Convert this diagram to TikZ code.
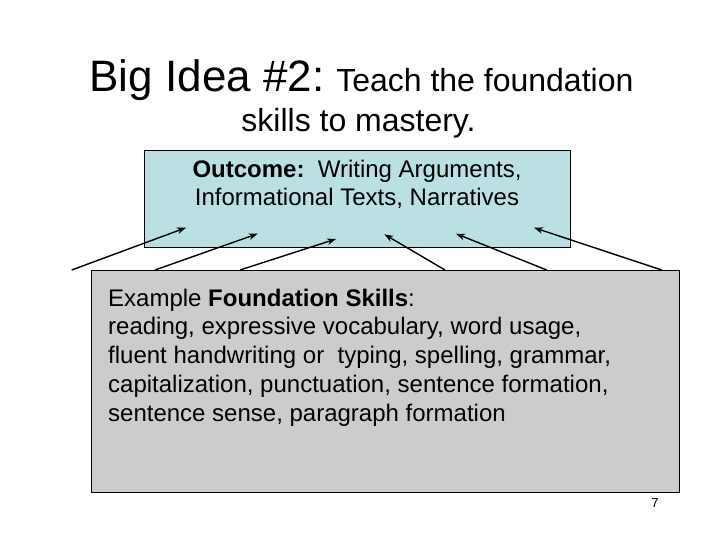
\documentclass[tikz,border=0pt]{standalone}
\usepackage{fontspec}
\setmainfont{Liberation Sans}
\usetikzlibrary{arrows.meta}
\definecolor{outcomeblue}{RGB}{187,224,227}
\definecolor{skillgray}{RGB}{204,204,204}
\tikzset{
  boxtext/.style={inner sep=0pt, font=\fontsize{24}{28.8}\selectfont},
  skillarrow/.style={-{Stealth[length=9pt,width=6.5pt]}, line width=1.4pt}
}
\begin{document}
\begin{tikzpicture}[x=1pt, y=-1pt]
% Slide size in pixels
\useasboundingbox (0,0) rectangle (720,540);

% Title
\node[anchor=base, inner sep=0pt] (title) at (361.5, 92) {\fontsize{44}{50}\selectfont Big Idea \#2:\fontsize{32}{38}\selectfont{} Teach the foundation};
\node[anchor=base, inner sep=0pt] (subtitle) at (358.5, 132) {\fontsize{32}{38}\selectfont skills to mastery.};

% Outcome box
\node[draw, line width=0.8pt, fill=outcomeblue, minimum width=426, minimum height=96, anchor=north west] (outcome) at (144, 150.5) {};
\node[boxtext, anchor=north, align=center] (outcometext) at (357, 159.5) {\textbf{Outcome:}\ \ Writing Arguments,\\ Informational Texts, Narratives};

% Foundation skills box
\node[draw, line width=1.4pt, fill=skillgray, minimum width=588, minimum height=222, anchor=north west] (skills) at (91, 270) {};
\node[boxtext, anchor=north west, align=left] (skillstext) at (108, 288.5) {Example \textbf{Foundation Skills}:\\ reading, expressive vocabulary, word usage,\\ fluent handwriting or\ \ typing, spelling, grammar,\\ capitalization, punctuation, sentence formation,\\ sentence sense, paragraph formation};

% Arrow ends
\coordinate (s1) at (71.7, 270);
\coordinate (s2) at (155, 270);
\coordinate (s3) at (240, 270);
\coordinate (s4) at (445, 270);
\coordinate (s5) at (546.7, 270);
\coordinate (s6) at (661.7, 270);
\coordinate (t1) at (186, 227.7);
\coordinate (t2) at (257.7, 233.7);
\coordinate (t3) at (336, 239);
\coordinate (t4) at (384.3, 234.3);
\coordinate (t5) at (456, 233.7);
\coordinate (t6) at (534, 227.7);

% Arrows from skills to outcome
\draw[skillarrow] (s1) -- (t1);
\draw[skillarrow] (s2) -- (t2);
\draw[skillarrow] (s3) -- (t3);
\draw[skillarrow] (s4) -- (t4);
\draw[skillarrow] (s5) -- (t5);
\draw[skillarrow] (s6) -- (t6);

% Page number
\node[inner sep=0pt, font=\fontsize{13}{15}\selectfont] (pagenum) at (655, 503) {7};
\end{tikzpicture}
\end{document}
